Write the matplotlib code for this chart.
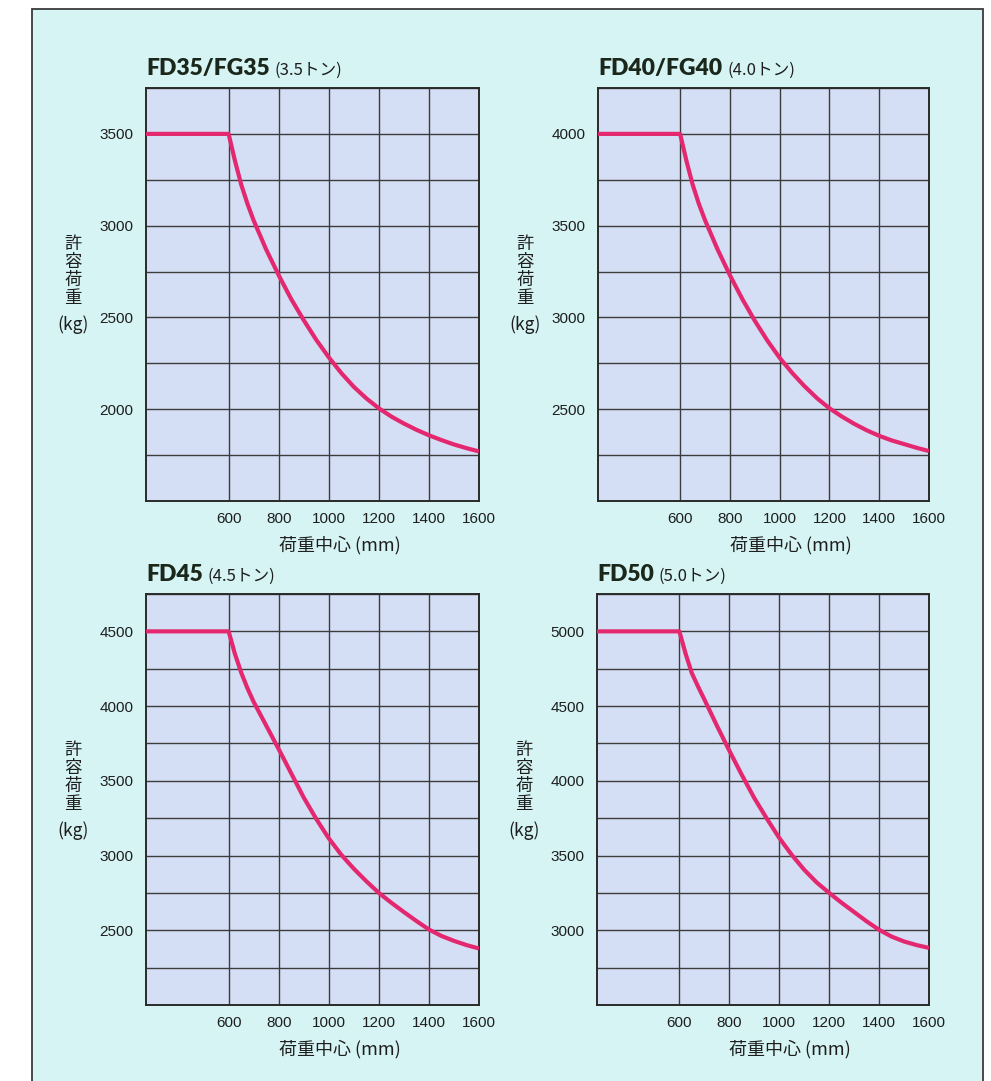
import numpy as np
import matplotlib.pyplot as plt
from matplotlib.patches import Rectangle
from matplotlib.ticker import MultipleLocator

W, H = 991, 1081

# load center (mm) and allowable load (kg)
load_center = [600, 625, 650, 675, 700, 750, 800, 850, 900, 950, 1000, 1050,
               1100, 1150, 1200, 1250, 1300, 1350, 1400, 1450, 1500, 1550, 1600]
fd35 = [3500, 3355, 3225, 3120, 3028, 2870, 2730, 2600, 2485, 2378, 2283, 2197,
        2122, 2059, 2005, 1960, 1922, 1888, 1858, 1832, 1808, 1788, 1770]
fd40 = [4000, 3855, 3725, 3620, 3530, 3372, 3230, 3100, 2982, 2875, 2780, 2698,
        2625, 2560, 2505, 2460, 2420, 2385, 2355, 2330, 2310, 2290, 2272]
fd45 = [4500, 4350, 4225, 4120, 4028, 3870, 3712, 3550, 3388, 3245, 3115, 3005,
        2912, 2828, 2750, 2684, 2622, 2562, 2505, 2462, 2429, 2401, 2378]
fd50 = [5000, 4850, 4720, 4630, 4545, 4370, 4202, 4040, 3885, 3748, 3618, 3505,
        3405, 3320, 3250, 3184, 3122, 3060, 3003, 2958, 2925, 2901, 2882]

titles = ['FD35/FG35', 'FD40/FG40', 'FD45', 'FD50']
subtitles = ['(3.5トン)', '(4.0トン)', '(4.5トン)', '(5.0トン)']
series = [fd35, fd40, fd45, fd50]
ylims = [(1500, 3750), (2000, 4250), (2000, 4750), (2500, 5250)]
yticks = [[2000, 2500, 3000, 3500],
          [2500, 3000, 3500, 4000],
          [2500, 3000, 3500, 4000, 4500],
          [3000, 3500, 4000, 4500, 5000]]
xticks = [600, 800, 1000, 1200, 1400, 1600]
x_min, x_max = 270, 1600

# axes boxes in pixels (left, top, right, bottom)
boxes = [(146, 88, 479, 501), (598, 88, 929, 501),
         (146, 594, 479, 1005), (597, 594, 929, 1005)]

BG = '#d6f4f4'
FACE = '#d4def5'
PINK = '#e4286f'
INK = '#1e1e1e'
TITLE_INK = '#1a271a'
CJK = ['Noto Sans CJK JP', 'DejaVu Sans']

fig = plt.figure(figsize=(W / 100, H / 100), dpi=100)
fig.patch.set_facecolor('white')

# outer frame
frame = Rectangle((32 / W, -0.05), (983 - 32) / W, 1 - 9 / H + 0.05,
                  transform=fig.transFigure, facecolor=BG, edgecolor='#3a3a3a',
                  linewidth=1.3, zorder=-10)
fig.patches.append(frame)

px = 72 / 100  # points per pixel

for i in range(4):
    l, t, r, b = boxes[i]
    ax = fig.add_axes([l / W, 1 - b / H, (r - l) / W, (b - t) / H])
    ax.set_facecolor(FACE)

    xs = [x_min] + load_center
    ys = [series[i][0]] + series[i]
    ax.plot(xs, ys, color=PINK, linewidth=3.0, solid_capstyle='butt',
            solid_joinstyle='round', zorder=3)

    ax.set_xlim(x_min, x_max)
    ax.set_ylim(*ylims[i])
    ax.set_xticks(xticks)
    ax.set_yticks(yticks[i])
    ax.yaxis.set_minor_locator(MultipleLocator(250))
    ax.grid(True, which='both', color='#3c3c3c', linewidth=1.0, zorder=1)
    ax.tick_params(which='both', length=0)
    ax.tick_params(axis='x', pad=8)
    ax.tick_params(axis='y', pad=9)
    for lab in ax.get_xticklabels() + ax.get_yticklabels():
        lab.set_fontfamily('Liberation Sans')
        lab.set_fontsize(11)
        lab.set_color(INK)
    for sp in ax.spines.values():
        sp.set_color('#2a2a2a')
        sp.set_linewidth(1.4)

    # title
    ttl = ax.annotate(titles[i], xy=(0, 1), xycoords='axes fraction',
                      xytext=(0, 13 * px), textcoords='offset points',
                      ha='left', va='baseline', fontsize=16.5, fontweight='heavy',
                      family=['Lato', 'DejaVu Sans'], color=TITLE_INK)
    ax.annotate(subtitles[i], xy=(1, 0), xycoords=ttl,
                xytext=(5 * px, 0), textcoords='offset points',
                ha='left', va='bottom', fontsize=12, family=CJK, color=INK)

    # y label, stacked vertically
    ax.annotate('許\n容\n荷\n重', xy=(0, 1), xycoords='axes fraction',
                xytext=(-73 * px, -183 * px), textcoords='offset points',
                ha='center', va='center', fontsize=12.5, family=CJK,
                color=INK, linespacing=1.0)
    ax.annotate('(kg)', xy=(0, 1), xycoords='axes fraction',
                xytext=(-73 * px, -237 * px), textcoords='offset points',
                ha='center', va='center', fontsize=12.5, family=CJK, color=INK)

    # x label (sits a little right of the axes centre)
    ax.annotate('荷重中心 (mm)', xy=(0.5, 0), xycoords='axes fraction',
                xytext=(27 * px, -44 * px), textcoords='offset points',
                ha='center', va='center', fontsize=13, family=CJK, color=INK)

fig.savefig('out.png', dpi=100, facecolor=fig.get_facecolor())
